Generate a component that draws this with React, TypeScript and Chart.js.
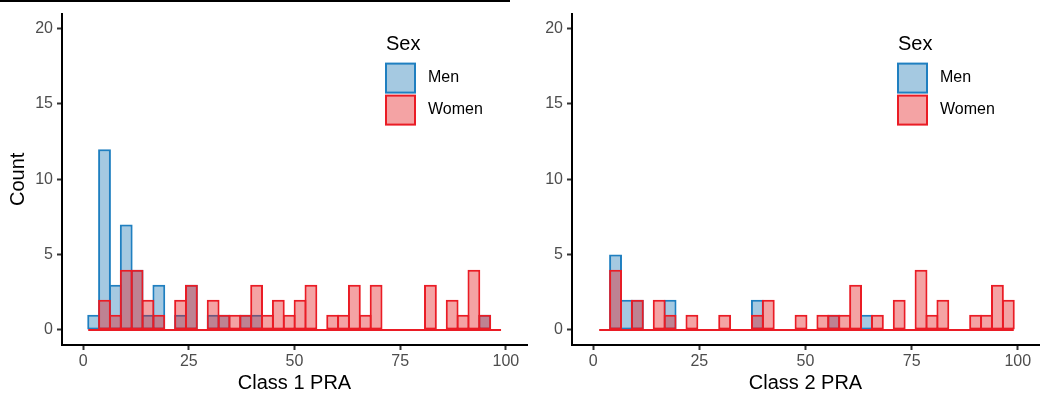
import React, { useEffect, useRef } from "react";
import { Chart, registerables } from "chart.js";

Chart.register(...registerables);

// ---- data ----
const BIN_WIDTH = 2.57;
const CLASS1_START = 1.2;
const CLASS2_START = 1.4;

const CLASS1_MEN = [1, 12, 3, 7, 4, 1, 3, 0, 1, 3, 0, 1, 1, 0, 1, 1, 0, 0, 0, 0, 0, 0, 0, 0, 0, 0, 0, 0, 0, 0, 0, 0, 0, 0, 0, 0, 1, 0];
const CLASS1_WOMEN = [0, 2, 1, 4, 4, 2, 1, 0, 2, 3, 0, 2, 1, 1, 1, 3, 1, 2, 1, 2, 3, 0, 1, 1, 3, 1, 3, 0, 0, 0, 0, 3, 0, 2, 1, 4, 1, 0];
const CLASS2_MEN = [0, 5, 2, 2, 0, 0, 2, 0, 0, 0, 0, 0, 0, 0, 2, 0, 0, 0, 0, 0, 0, 1, 0, 0, 1, 0, 0, 0, 0, 0, 0, 0, 0, 0, 0, 0, 0, 0];
const CLASS2_WOMEN = [0, 4, 0, 2, 0, 2, 1, 0, 1, 0, 0, 1, 0, 0, 1, 2, 0, 0, 1, 0, 1, 1, 1, 3, 0, 1, 0, 2, 0, 4, 1, 2, 0, 0, 1, 1, 3, 2];

const X_TICKS = [0, 25, 50, 75, 100];
const Y_TICKS = [0, 5, 10, 15, 20];
const SERIES_NAMES = ["Men", "Women"];
const LEGEND_TITLE = "Sex";
const X_TITLES = ["Class 1 PRA", "Class 2 PRA"];
const Y_TITLE = "Count";

// ---- styles ----
const FONT = "'Liberation Sans', Arial, Helvetica, sans-serif";
const MEN_LINE = "#1f7fc0";
const MEN_FILL = "rgba(31,120,180,0.4)";
const WOMEN_LINE = "#ea1c25";
const WOMEN_FILL = "rgba(228,26,28,0.4)";

const legendPlugin = {
  id: "sexLegend",
  afterDraw(chart: any) {
    const { ctx, chartArea } = chart;
    const x = chartArea.right - 141;
    const t = chartArea.top;
    ctx.save();
    ctx.fillStyle = "#000";
    ctx.font = `20px ${FONT}`;
    ctx.textBaseline = "alphabetic";
    ctx.textAlign = "left";
    ctx.fillText(LEGEND_TITLE, x, t + 36);
    const items = [
      { name: SERIES_NAMES[0], fill: MEN_FILL, line: MEN_LINE },
      { name: SERIES_NAMES[1], fill: WOMEN_FILL, line: WOMEN_LINE },
    ];
    items.forEach((it, i) => {
      const by = t + 50 + i * 32;
      ctx.fillStyle = "#fff";
      ctx.fillRect(x, by, 29, 29);
      ctx.fillStyle = it.fill;
      ctx.fillRect(x, by, 29, 29);
      ctx.strokeStyle = it.line;
      ctx.lineWidth = 2;
      ctx.strokeRect(x, by, 29, 29);
      ctx.fillStyle = "#000";
      ctx.font = `16px ${FONT}`;
      ctx.textBaseline = "middle";
      ctx.fillText(it.name, x + 42, by + 14);
    });
    ctx.restore();
  },
};

type PanelProps = {
  men: number[];
  women: number[];
  start: number;
  xTitle: string;
  showYTitle: boolean;
  yAxisWidth: number;
  padRight: number;
  left: number;
  width: number;
};

function Panel(props: PanelProps) {
  const ref = useRef<HTMLCanvasElement | null>(null);
  useEffect(() => {
    const { men, women, start, xTitle, showYTitle, yAxisWidth, padRight } = props;
    const centers = men.map((_, i) => start + BIN_WIDTH * (i + 0.5));
    const end = start + BIN_WIDTH * men.length;
    const chart = new Chart(ref.current as HTMLCanvasElement, {
      type: "bar",
      data: {
        datasets: [
          {
            type: "bar",
            label: SERIES_NAMES[1],
            data: women.map((v, i) => ({ x: centers[i], y: v })),
            backgroundColor: WOMEN_FILL,
            borderColor: WOMEN_LINE,
            borderWidth: 2,
            borderSkipped: false,
            grouped: false,
            barPercentage: 1.18,
            categoryPercentage: 1,
            order: 0,
          } as any,
          {
            type: "line",
            label: "baseline",
            data: [
              { x: start, y: 0 },
              { x: end, y: 0 },
            ],
            borderColor: WOMEN_LINE,
            borderWidth: 2,
            pointRadius: 0,
            fill: false,
            order: 1,
          } as any,
          {
            type: "bar",
            label: SERIES_NAMES[0],
            data: men.map((v, i) => ({ x: centers[i], y: v })),
            backgroundColor: MEN_FILL,
            borderColor: MEN_LINE,
            borderWidth: 2,
            borderSkipped: false,
            grouped: false,
            barPercentage: 1.18,
            categoryPercentage: 1,
            order: 2,
          } as any,
        ],
      },
      options: {
        animation: false,
        responsive: false,
        devicePixelRatio: 1,
        layout: { padding: { top: 12, right: padRight, left: 0, bottom: 0 } },
        plugins: { legend: { display: false }, tooltip: { enabled: false } },
        scales: {
          x: {
            type: "linear",
            min: -5,
            max: 105,
            offset: false,
            afterBuildTicks: (s: any) => {
              s.ticks = X_TICKS.map((v) => ({ value: v }));
            },
            afterFit: (s: any) => {
              s.height = 60;
            },
            border: { display: true, color: "#000", width: 2 },
            grid: { display: true, offset: false, drawOnChartArea: false, drawTicks: true, tickLength: 5, tickColor: "#333", tickWidth: 2 },
            ticks: { color: "#4d4d4d", font: { size: 16, family: FONT }, padding: 2, maxRotation: 0, autoSkip: false },
            title: { display: true, text: xTitle, color: "#000", font: { size: 20, family: FONT }, padding: { top: 0, bottom: 10 } },
          },
          y: {
            type: "linear",
            min: -1,
            max: 21,
            afterBuildTicks: (s: any) => {
              s.ticks = Y_TICKS.map((v) => ({ value: v }));
            },
            afterFit: (s: any) => {
              s.width = yAxisWidth;
            },
            border: { display: true, color: "#000", width: 2 },
            grid: { display: true, drawOnChartArea: false, drawTicks: true, tickLength: 5, tickColor: "#333", tickWidth: 2 },
            ticks: { color: "#4d4d4d", font: { size: 16, family: FONT }, padding: 4 },
            title: { display: showYTitle, text: Y_TITLE, color: "#000", font: { size: 20, family: FONT }, padding: { top: 6, bottom: 0 } },
          },
        },
      },
      plugins: [legendPlugin],
    } as any);
    return () => chart.destroy();
  }, []);
  return (
    <canvas
      ref={ref}
      width={props.width}
      height={405}
      style={{ position: "absolute", left: props.left, top: 0, width: props.width, height: 405 }}
    />
  );
}

export default function App() {
  return (
    <div style={{ position: "absolute", left: 0, top: 0, width: 1050, height: 405, background: "#fff", overflow: "hidden" }}>
      <div style={{ position: "absolute", left: 0, top: 0, width: 510, height: 2, background: "#000" }} />
      <Panel men={CLASS1_MEN} women={CLASS1_WOMEN} start={CLASS1_START} xTitle={X_TITLES[0]} showYTitle={true} yAxisWidth={62} padRight={3} left={0} width={530} />
      <Panel men={CLASS2_MEN} women={CLASS2_WOMEN} start={CLASS2_START} xTitle={X_TITLES[1]} showYTitle={false} yAxisWidth={42} padRight={11} left={530} width={520} />
    </div>
  );
}
